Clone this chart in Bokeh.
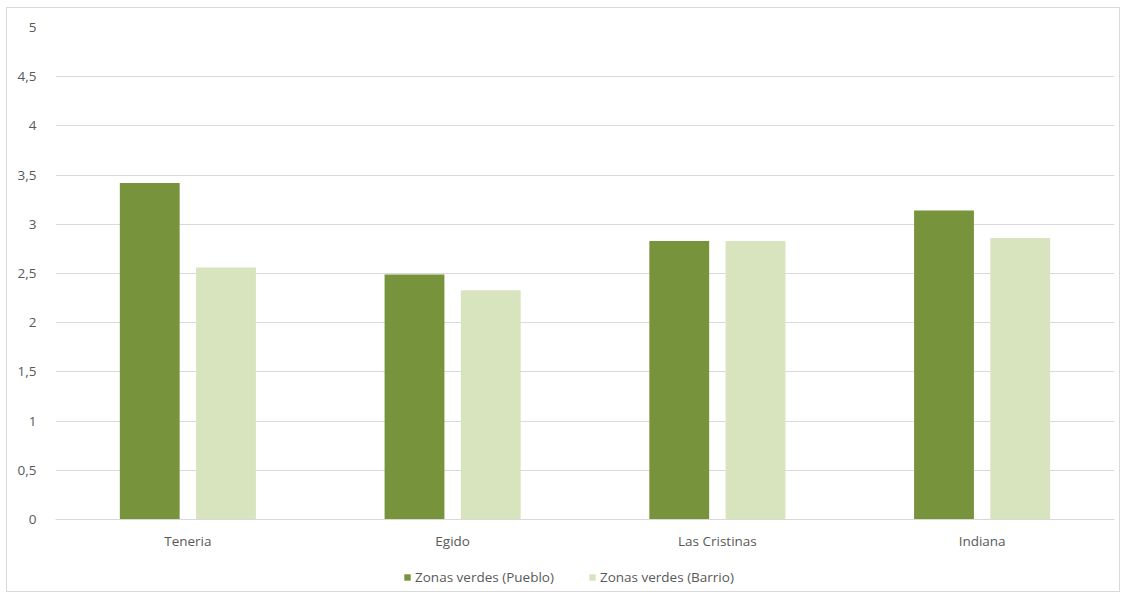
from bokeh.plotting import figure
from bokeh.layouts import column
from bokeh.models import ColumnDataSource, FactorRange, Range1d, FixedTicker, Legend, LegendItem
from bokeh.transform import dodge
from bokeh.embed import file_html
from bokeh.resources import INLINE

categories = ["Teneria", "Egido", "Las Cristinas", "Indiana"]
pueblo = [3.42, 2.49, 2.83, 3.14]
barrio = [2.56, 2.33, 2.83, 2.86]
series_names = ["Zonas verdes (Pueblo)", "Zonas verdes (Barrio)"]
y_ticks = [0, 0.5, 1, 1.5, 2, 2.5, 3, 3.5, 4, 4.5, 5]
y_tick_labels = ["0", "0,5", "1", "1,5", "2", "2,5", "3", "3,5", "4", "4,5", "5"]

FONT = "Open Sans"
TXT = "#595959"
DARK = "#77933C"
LIGHT = "#D7E4BD"

src = ColumnDataSource(data=dict(cat=categories, pueblo=pueblo, barrio=barrio))

W = 1112
p = figure(width=W, height=544, x_range=FactorRange(*categories), y_range=Range1d(0, 5),
           output_backend="svg", toolbar_location=None,
           min_border_left=48, min_border_right=W - 48 - 1059, min_border_top=19, min_border_bottom=10)
p.outline_line_color = None
p.border_fill_color = "white"
p.background_fill_color = "white"

p.vbar(x=dodge("cat", -0.144, range=p.x_range), top="pueblo", width=0.226, source=src,
       fill_color=DARK, line_color=None)
p.vbar(x=dodge("cat", 0.144, range=p.x_range), top="barrio", width=0.226, source=src,
       fill_color=LIGHT, line_color=None)

p.yaxis.ticker = FixedTicker(ticks=y_ticks)
p.yaxis.major_label_overrides = {t: l for t, l in zip(y_ticks, y_tick_labels)}
p.yaxis.axis_line_color = None
p.yaxis.major_tick_line_color = None
p.yaxis.minor_tick_line_color = None
p.yaxis.major_label_standoff = 13
p.yaxis.major_label_text_font = FONT
p.yaxis.major_label_text_font_size = "13.5px"
p.yaxis.major_label_text_color = TXT

p.xaxis.axis_line_color = "#d9d9d9"
p.xaxis.major_tick_line_color = None
p.xaxis.minor_tick_line_color = None
p.xaxis.major_label_standoff = 6
p.xaxis.major_label_text_font = FONT
p.xaxis.major_label_text_font_size = "13.5px"
p.xaxis.major_label_text_color = TXT

p.xgrid.grid_line_color = None
p.ygrid.grid_line_color = "#d9d9d9"
p.ygrid.ticker = FixedTicker(ticks=y_ticks)

# legend strip: same data, drawn outside its visible range so only the legend shows
lg = figure(width=W, height=39, x_range=FactorRange(*categories), y_range=Range1d(100, 101),
            output_backend="svg", toolbar_location=None, x_axis_type=None, y_axis_type=None,
            min_border=0)
lg.outline_line_color = None
lg.grid.grid_line_color = None
lr1 = lg.vbar(x="cat", top="pueblo", width=0.2, source=src, fill_color=DARK, line_color=None)
lr2 = lg.vbar(x="cat", top="barrio", width=0.2, source=src, fill_color=LIGHT, line_color=None)
legend = Legend(items=[LegendItem(label=series_names[0], renderers=[lr1]),
                       LegendItem(label=series_names[1], renderers=[lr2])],
                orientation="horizontal", location=(348, 5),
                label_text_font=FONT, label_text_font_size="13.5px", label_text_color=TXT,
                glyph_width=8, glyph_height=8, label_standoff=4, spacing=34,
                padding=0, margin=0,
                border_line_color=None, background_fill_alpha=0)
lg.add_layout(legend, "center")

layout = column(p, lg, spacing=0, margin=(7, 0, 0, 6),
                styles={"border": "1px solid #d9d9d9", "background": "white"})

open("out.html", "w").write(file_html(layout, INLINE))
